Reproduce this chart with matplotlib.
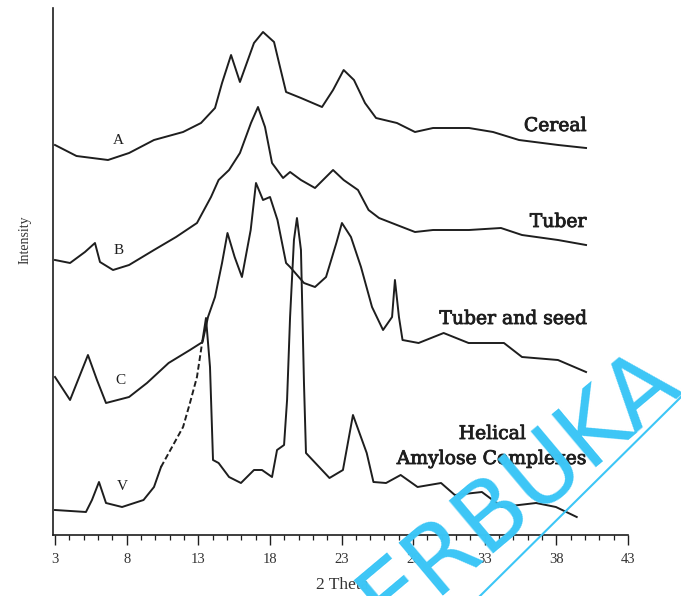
import numpy as np
import matplotlib.pyplot as plt
from matplotlib.lines import Line2D
import matplotlib.patheffects as pe

# 2 theta (degrees) and intensity (arbitrary, stacked offsets as in the figure)
theta_a = [3.0, 4.5, 6.70, 8.17, 9.91, 11.94, 13.19, 14.17, 14.66, 15.29, 15.91, 16.89,
           17.52, 18.29, 18.64, 19.13, 20.17, 21.64, 22.41, 23.15, 23.87, 24.64, 25.41,
           26.87, 28.13, 29.39, 31.90, 33.58, 35.39, 38.13, 40.07]
int_a = [390, 379, 375, 382, 395, 403, 412, 427, 452, 480, 453, 492,
         503, 493, 472, 443, 437, 428, 445, 465, 455, 432, 417,
         412, 403, 407, 407, 403, 395, 390, 387]

theta_b = [3.0, 4.05, 5.09, 5.79, 6.14, 7.05, 8.17, 9.91, 11.45, 12.91, 13.89, 14.42,
           15.15, 15.91, 16.68, 17.17, 17.66, 18.15, 18.92, 19.41, 20.17, 21.15, 21.92,
           22.41, 23.15, 24.15, 24.89, 25.62, 26.87, 28.13, 29.39, 31.90, 34.13, 35.60,
           38.11, 40.07]
int_b = [275, 272, 283, 292, 273, 265, 270, 285, 298, 312, 338, 355,
         365, 382, 412, 428, 408, 372, 357, 363, 355, 347, 358,
         365, 355, 345, 325, 317, 310, 303, 305, 305, 307, 300,
         295, 290]

theta_c = [3.0, 4.05, 5.30, 5.93, 6.56, 8.17, 9.42, 10.93, 12.42, 13.30, 13.68, 14.17,
           14.66, 15.04, 15.54, 16.05, 16.66, 17.03, 17.52, 18.01, 18.53, 19.13, 19.41,
           20.38, 21.15, 21.92, 22.64, 23.03, 23.66, 24.36, 25.13, 25.90, 26.53, 26.73,
           27.01, 27.26, 28.38, 30.13, 31.87, 34.34, 35.60, 38.11, 40.07]
int_c = [158, 135, 180, 155, 132, 138, 152, 172, 185, 193, 218, 238,
         272, 302, 278, 258, 305, 352, 335, 338, 315, 272, 268,
         252, 248, 258, 292, 312, 298, 268, 228, 205, 218, 255,
         218, 195, 192, 202, 192, 192, 178, 175, 163]

theta_v = [3.0, 5.16, 5.58, 6.07, 6.56, 7.68, 9.18, 9.91, 10.40, 11.17, 11.94, 12.42,
           12.91, 13.30, 13.54, 13.82, 14.03, 14.42, 15.15, 15.98, 16.89, 17.45, 18.15,
           18.50, 18.99, 19.20, 19.41, 19.68, 19.89, 20.17, 20.38, 20.52, 22.16, 23.10,
           23.80, 24.76, 25.23, 26.11, 27.13, 28.31, 29.95, 30.91, 32.80, 34.20, 36.58,
           37.97, 39.42]
int_v = [25, 23, 35, 53, 32, 28, 35, 48, 68, 88, 108, 132,
         158, 195, 217, 168, 75, 72, 58, 52, 65, 65, 58,
         85, 90, 135, 218, 295, 317, 285, 152, 82, 57, 65,
         120, 82, 53, 52, 60, 48, 52, 40, 43, 28, 32,
         28, 18]

letters = ["A", "B", "C", "V"]
letter_pos = [(7.4, 394), (7.44, 285), (7.54, 155), (7.68, 48)]
names = ["Cereal", "Tuber", "Tuber and seed"]
name_pos = [(40.07, 409), (40.07, 313), (40.07, 216)]
helical = ["Helical", "Amylose Complexes"]
helical_pos = [(33.5, 101), (33.45, 76)]

xticks = [3, 8, 13, 18, 23, 28, 33, 38, 43]

ink = "#1e1e1e"
serif = "Liberation Serif"

fig = plt.figure(figsize=(6.81, 5.96), dpi=100)
ax = fig.add_axes([53 / 681, 61 / 596, 575 / 681, 527 / 596])

ax.plot(theta_a, int_a, color=ink, lw=1.4)
ax.plot(theta_b, int_b, color=ink, lw=1.4)
ax.plot(theta_c, int_c, color=ink, lw=1.4)
# the scanned V trace looks broken on its rising part
ax.plot(theta_v[:9], int_v[:9], color=ink, lw=1.4)
ax.plot(theta_v[8:14], int_v[8:14], color=ink, lw=1.4, ls=(0, (3, 1.5)))
ax.plot(theta_v[13:], int_v[13:], color=ink, lw=1.4)

for t, (x, y) in zip(letters, letter_pos):
    ax.text(x, y, t, fontsize=11, family=serif, color=ink, ha="center", va="center")

fx = [pe.withStroke(linewidth=0.6, foreground=ink)]
for t, (x, y) in zip(names, name_pos):
    ax.text(x, y, t, fontsize=13.5, family="DejaVu Serif", color=ink,
            ha="right", va="center", path_effects=fx)
for t, (x, y) in zip(helical, helical_pos):
    ax.text(x, y, t, fontsize=13.5, family="DejaVu Serif", color=ink,
            ha="center", va="center", path_effects=fx)

ax.set_xlim(2.86, 43)
ax.set_ylim(0, 527)
ax.set_xticks(xticks)
ax.set_xticklabels([str(t) for t in xticks], family=serif, fontsize=10.5, color="#333333")
ax.set_xticks(np.arange(3, 44, 1), minor=True)
ax.set_yticks([])
ax.tick_params(axis="x", which="major", direction="out", length=7, width=1.0, color=ink, pad=6)
ax.tick_params(axis="x", which="minor", direction="out", length=3.5, width=0.9, color=ink)
for s in ["top", "right"]:
    ax.spines[s].set_visible(False)
for s in ["left", "bottom"]:
    ax.spines[s].set_linewidth(1.2)
    ax.spines[s].set_color(ink)

fig.text(342 / 681, 1 - 585 / 596, "2 Theta", family=serif, fontsize=12.5,
         color="#333333", ha="center", va="center")
fig.text(25 / 681, 1 - 240 / 596, "Intensity", family=serif, fontsize=10,
         color="#333333", ha="center", va="center", rotation=90)

# watermark overlay (cut by the bottom edge, as in the scan)
cyan = "#3cc6f6"
fig.text(520 / 681, 1 - 490 / 596, "ERBUKA", fontsize=68, family="DejaVu Sans",
         color=cyan, rotation=40, ha="center", va="center", rotation_mode="anchor",
         zorder=10)
fig.add_artist(Line2D([480 / 681, 1.0], [0.0, 1 - 397 / 596], color=cyan, lw=1.5, zorder=10))

fig.savefig("out.png", dpi=100)
